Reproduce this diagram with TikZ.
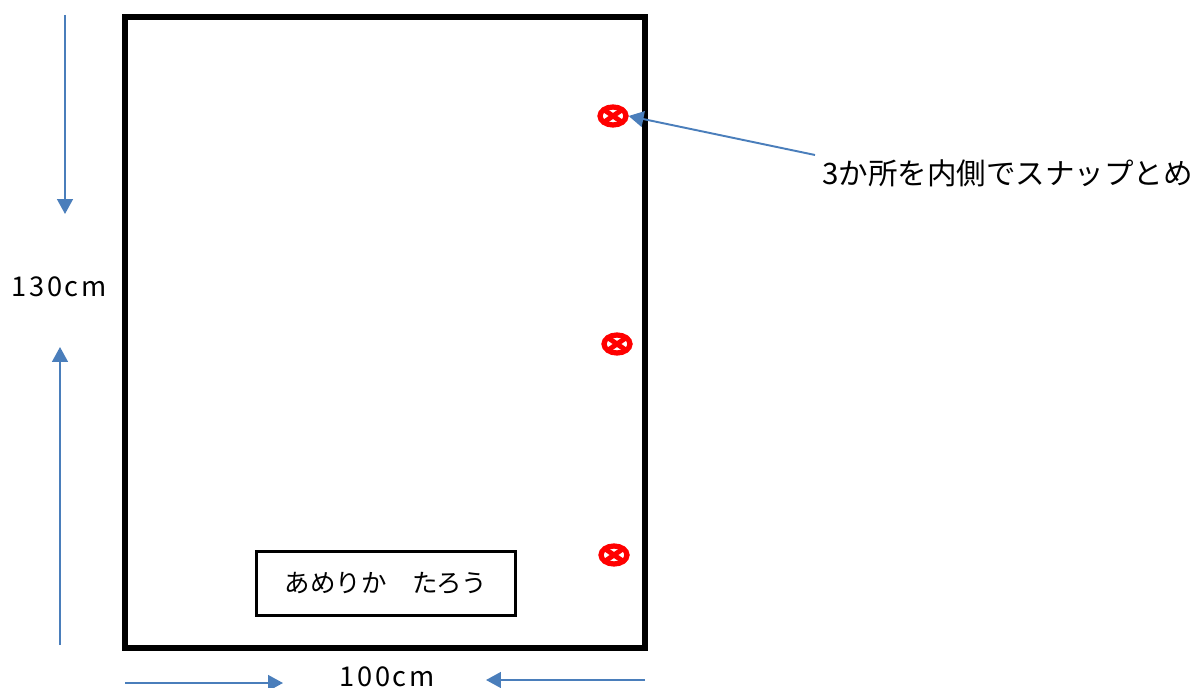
\documentclass[tikz,border=0pt]{standalone}
\usepackage{fontspec}
\setmainfont{Noto Sans CJK JP}
\usetikzlibrary{arrows.meta,shapes.geometric}
\definecolor{dimblue}{HTML}{4A7EBB}

\begin{document}
\begin{tikzpicture}[x=0.02cm,y=-0.02cm,>={Triangle[length=8.5pt,width=9pt]},
	dim/.style={->,draw=dimblue,line width=1.1pt},
	sheet/.style={draw,line width=3.4pt,minimum width=10.4cm,minimum height=12.62cm,inner sep=0pt},
	namebox/.style={draw,line width=1.7pt,minimum width=5.18cm,minimum height=1.28cm,font=\fontsize{14.5}{16}\selectfont},
	label/.style={inner sep=0pt,font=\fontsize{15.5}{17}\selectfont\addfontfeature{LetterSpace=10}},
	snap/.style={ellipse,draw=red,fill=white,line width=3pt,minimum width=0.52cm,minimum height=0.36cm,inner sep=0pt,
		path picture={\draw[red,line width=2.8pt] (path picture bounding box.north west) -- (path picture bounding box.south east)
			(path picture bounding box.south west) -- (path picture bounding box.north east);}}]

	\useasboundingbox (0,0) rectangle (1195,688);

	% sheet and name tag
	\node[sheet] (frame) at (385,332.5) {};
	\node[namebox] (tag) at (386,583.5) {あめりか　たろう};

	% snaps on the right edge
	\foreach \place/\name in {{(613,116)/s1}, {(617,344)/s2}, {(614,555)/s3}}
		\node[snap] (\name) at \place {};

	% dimensions
	\node[label] (height) at (59,287) {130cm};
	\node[label] (width) at (387,677) {100cm};
	\coordinate (htop) at (65,15);
	\coordinate (hbot) at (60,645);
	\coordinate (wleft) at (125,683);
	\coordinate (wright) at (645,680);
	\draw[dim] (htop) -- (65,214);
	\draw[dim] (hbot) -- (60,347);
	\draw[dim] (wleft) -- (283,683);
	\draw[dim] (wright) -- (486,680);

	% callout
	\node[inner sep=0pt,anchor=west,font=\fontsize{16.8}{18}\selectfont] (note) at (822,173) {3か所を内側でスナップとめ};
	\coordinate (ctail) at (815,155);
	\draw[dim] (ctail) -- (s1.east);
\end{tikzpicture}
\end{document}
